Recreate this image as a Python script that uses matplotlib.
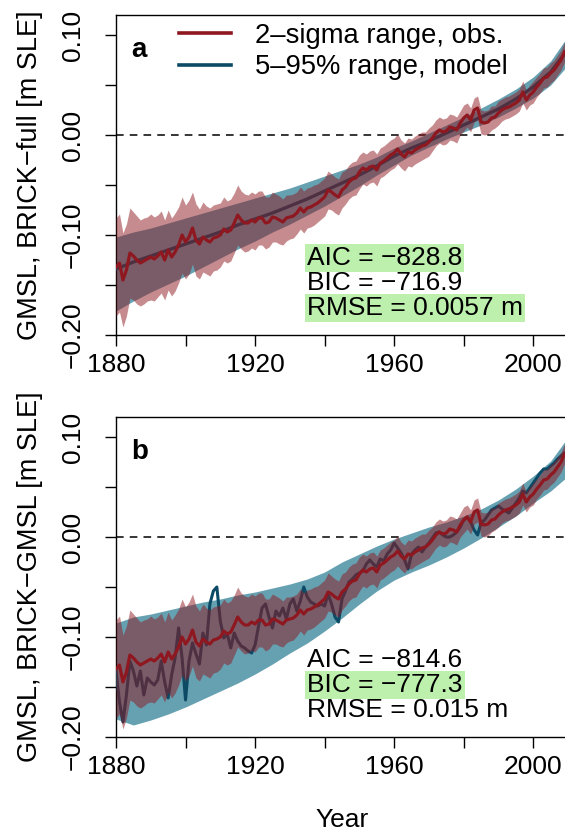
import numpy as np
import matplotlib
matplotlib.use("Agg")
import matplotlib.pyplot as plt
from matplotlib.lines import Line2D

plt.rcParams['font.family'] = ['Liberation Sans', 'DejaVu Sans']

# ---- observations (GMSL, m) with 2-sigma half width ----
obs_years = np.arange(1880, 2010)
obs_gmsl = [
    -0.132, -0.128, -0.145, -0.135, -0.118, -0.121, -0.125, -0.128, -0.126, -0.124,
    -0.122, -0.124, -0.121, -0.117, -0.125, -0.115, -0.122, -0.117, -0.110, -0.100,
    -0.107, -0.102, -0.093, -0.105, -0.109, -0.102, -0.105, -0.107, -0.103, -0.102,
    -0.100, -0.094, -0.097, -0.095, -0.088, -0.080, -0.085, -0.088, -0.088, -0.085,
    -0.087, -0.083, -0.083, -0.088, -0.087, -0.082, -0.083, -0.085, -0.087, -0.083,
    -0.082, -0.081, -0.078, -0.073, -0.077, -0.073, -0.072, -0.070, -0.068, -0.065,
    -0.062, -0.055, -0.057, -0.060, -0.062, -0.055, -0.052, -0.047, -0.044, -0.043,
    -0.037, -0.033, -0.035, -0.032, -0.031, -0.035, -0.028, -0.026, -0.023, -0.020,
    -0.018, -0.014, -0.019, -0.022, -0.017, -0.018, -0.015, -0.013, -0.011, -0.010,
    -0.007, -0.003, 0.002, 0.005, 0.003, 0.004, 0.008, 0.007, 0.005, 0.012,
    0.017, 0.020, 0.015, 0.025, 0.027, 0.013, 0.012, 0.013, 0.017, 0.018,
    0.022, 0.025, 0.027, 0.028, 0.030, 0.032, 0.035, 0.043, 0.035, 0.040,
    0.043, 0.048, 0.052, 0.057, 0.058, 0.062, 0.065, 0.070, 0.075, 0.083,
]
obs_err = [
    0.049, 0.049, 0.047, 0.046, 0.045, 0.044, 0.044, 0.043, 0.043, 0.042,
    0.043, 0.042, 0.041, 0.041, 0.040, 0.040, 0.039, 0.039, 0.038, 0.038,
    0.037, 0.037, 0.036, 0.036, 0.035, 0.035, 0.034, 0.034, 0.033, 0.033,
    0.032, 0.032, 0.031, 0.031, 0.030, 0.030, 0.029, 0.029, 0.028, 0.028,
    0.028, 0.027, 0.027, 0.026, 0.025, 0.025, 0.024, 0.024, 0.023, 0.023,
    0.022, 0.022, 0.021, 0.021, 0.021, 0.020, 0.020, 0.020, 0.019, 0.019,
    0.019, 0.019, 0.018, 0.018, 0.018, 0.018, 0.017, 0.017, 0.017, 0.017,
    0.017, 0.016, 0.016, 0.016, 0.016, 0.016, 0.015, 0.015, 0.015, 0.015,
    0.015, 0.015, 0.014, 0.014, 0.014, 0.014, 0.014, 0.014, 0.014, 0.013,
    0.014, 0.013, 0.013, 0.013, 0.013, 0.013, 0.013, 0.013, 0.013, 0.012,
    0.013, 0.012, 0.012, 0.012, 0.012, 0.012, 0.012, 0.012, 0.012, 0.011,
    0.012, 0.011, 0.011, 0.011, 0.011, 0.011, 0.011, 0.011, 0.010, 0.010,
    0.011, 0.010, 0.010, 0.010, 0.010, 0.010, 0.010, 0.010, 0.010, 0.010,
]

# ---- BRICK-full hindcast (panel a) ----
mod_years = [1880, 1885, 1890, 1895, 1900, 1905, 1910, 1915, 1920, 1925, 1930, 1935, 1940,
             1945, 1950, 1955, 1960, 1965, 1970, 1975, 1980, 1985, 1990, 1995, 2000, 2005, 2009]
full_med = [-0.134, -0.127, -0.121, -0.115, -0.109, -0.103, -0.097, -0.090, -0.084, -0.078,
            -0.071, -0.064, -0.056, -0.048, -0.040, -0.031, -0.021, -0.013, -0.006, 0.002,
            0.010, 0.018, 0.026, 0.036, 0.048, 0.063, 0.081]
full_hi = [-0.102, -0.097, -0.093, -0.088, -0.083, -0.078, -0.073, -0.068, -0.063, -0.058,
           -0.053, -0.047, -0.041, -0.035, -0.029, -0.022, -0.013, -0.006, 0.002, 0.010,
           0.018, 0.027, 0.036, 0.046, 0.058, 0.074, 0.094]
full_lo = [-0.176, -0.166, -0.157, -0.149, -0.141, -0.132, -0.123, -0.114, -0.106, -0.097,
           -0.089, -0.080, -0.071, -0.061, -0.051, -0.040, -0.030, -0.020, -0.012, -0.004,
           0.003, 0.010, 0.018, 0.027, 0.037, 0.050, 0.066]

# ---- BRICK-GMSL hindcast (panel b) ----
gmsl_med = [
    -0.134, -0.165, -0.185, -0.158, -0.124, -0.134, -0.149, -0.134, -0.158, -0.141,
    -0.145, -0.148, -0.143, -0.124, -0.145, -0.161, -0.138, -0.121, -0.091, -0.121,
    -0.163, -0.124, -0.106, -0.117, -0.127, -0.096, -0.108, -0.067, -0.054, -0.050,
    -0.084, -0.101, -0.097, -0.111, -0.096, -0.104, -0.109, -0.111, -0.114, -0.116,
    -0.108, -0.089, -0.071, -0.067, -0.080, -0.091, -0.074, -0.079, -0.071, -0.082,
    -0.067, -0.062, -0.074, -0.064, -0.050, -0.060, -0.065, -0.067, -0.069, -0.067,
    -0.069, -0.057, -0.067, -0.080, -0.085, -0.062, -0.054, -0.045, -0.042, -0.038,
    -0.036, -0.034, -0.027, -0.023, -0.027, -0.030, -0.022, -0.024, -0.017, -0.013,
    -0.006, -0.011, -0.016, -0.023, -0.032, -0.017, -0.013, -0.010, -0.015, -0.010,
    -0.006, -0.001, 0.004, 0.005, 0.002, 0.000, 0.000, 0.002, 0.005, 0.010,
    0.017, 0.020, 0.015, 0.007, 0.002, 0.014, 0.017, 0.022, 0.027, 0.029,
    0.031, 0.028, 0.026, 0.024, 0.029, 0.034, 0.039, 0.046, 0.044, 0.049,
    0.054, 0.059, 0.064, 0.068, 0.068, 0.071, 0.074, 0.078, 0.081, 0.084,
]
gmsl_hi = [-0.086, -0.080, -0.077, -0.073, -0.069, -0.065, -0.062, -0.058, -0.055, -0.051,
           -0.047, -0.042, -0.035, -0.025, -0.017, -0.009, -0.002, 0.004, 0.010, 0.015,
           0.021, 0.028, 0.037, 0.048, 0.061, 0.076, 0.095]
gmsl_lo = [-0.182, -0.188, -0.183, -0.177, -0.170, -0.162, -0.154, -0.146, -0.137, -0.127,
           -0.116, -0.106, -0.094, -0.081, -0.067, -0.054, -0.043, -0.035, -0.028, -0.020,
           -0.011, -0.001, 0.010, 0.021, 0.034, 0.046, 0.058]

stats_a = ["AIC = \u2212828.8", "BIC = \u2212716.9", "RMSE = 0.0057 m"]
stats_b = ["AIC = \u2212814.6", "BIC = \u2212777.3", "RMSE = 0.015 m"]
hl_a = [True, False, True]
hl_b = [False, True, False]

RED = '#8f1820'
BLUE = '#0c4a66'
TEAL = '#66a1b1'
GREEN = '#bdf0ad'
FS = 19

obs = np.array(obs_gmsl)
err = np.array(obs_err)

fig = plt.figure(figsize=(5.65, 8.35), dpi=100)
ax_a = fig.add_axes([116/565, (835-335)/835, 452/565, 320/835])
ax_b = fig.add_axes([116/565, (835-737)/835, 452/565, 320/835])


def draw_panel(ax, med_x, med, hi, lo, lab, ylab, stats, hl, mod_lw):
    ax.axhline(0, color='black', lw=1.1, ls=(0, (5, 4)), zorder=1)
    ax.fill_between(mod_years, lo, hi, color=TEAL, lw=0, zorder=2)
    ax.plot(med_x, med, color=BLUE, lw=mod_lw, zorder=3)
    ax.fill_between(obs_years, obs - err, obs + err, color=RED, alpha=0.5, lw=0, zorder=4)
    ax.plot(obs_years, obs, color=RED, lw=2.3, zorder=5)

    ax.set_xlim(1880, 2010)
    ax.set_ylim(-0.20, 0.12)
    ax.set_xticks([1880, 1900, 1920, 1940, 1960, 1980, 2000])
    ax.set_xticklabels(['1880', '', '1920', '', '1960', '', '2000'])
    ax.set_yticks([-0.20, -0.15, -0.10, -0.05, 0.00, 0.05, 0.10])
    ax.set_yticklabels(['\u22120.20', '', '\u22120.10', '', '0.00', '', '0.10'],
                       rotation=90, va='center')
    ax.tick_params(axis='both', labelsize=FS, length=8, width=1, direction='out')
    ax.tick_params(axis='x', pad=5)
    ax.tick_params(axis='y', pad=14.5)
    ax.spines['right'].set_visible(False)
    for s in ['left', 'top', 'bottom']:
        ax.spines[s].set_linewidth(1)
    ax.set_ylabel(ylab, fontsize=19.5, labelpad=13)
    ax.text(0.033, 0.89, lab, transform=ax.transAxes, fontsize=20,
            fontweight='bold', va='center', ha='left')
    ys = [0.2406, 0.1625, 0.0844]
    for s, y, h in zip(stats, ys, hl):
        bb = dict(boxstyle='square,pad=0.08', fc=GREEN, ec='none') if h else None
        ax.text(0.4226, y, s, transform=ax.transAxes, fontsize=19,
                va='center', ha='left', bbox=bb, zorder=6)


draw_panel(ax_a, mod_years, full_med, full_hi, full_lo, 'a',
           'GMSL, BRICK\u2212full [m SLE]', stats_a, hl_a, 2.4)
draw_panel(ax_b, obs_years, gmsl_med, gmsl_hi, gmsl_lo, 'b',
           'GMSL, BRICK\u2212GMSL [m SLE]', stats_b, hl_b, 2.2)
ax_b.set_xlabel('Year', fontsize=FS, labelpad=21)

handles = [Line2D([], [], color=RED, lw=2.6), Line2D([], [], color=BLUE, lw=2.6)]
ax_a.legend(handles, ['2\u2013sigma range, obs.', '5\u201395% range, model'],
            loc='upper left', bbox_to_anchor=(0.14, 0.975), frameon=False,
            fontsize=19.7, handlelength=1.9, handletextpad=0.85,
            labelspacing=0.2, borderpad=0, borderaxespad=0)

fig.savefig('out.png', dpi=100)
